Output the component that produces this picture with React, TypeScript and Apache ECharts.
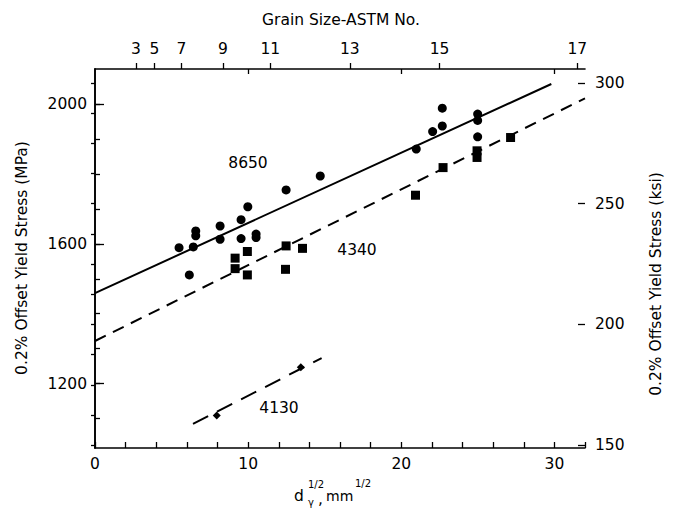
import React, { useEffect, useRef } from "react";
import * as echarts from "echarts";

// 8650 steel (circles)
const c8650X = [5.49, 6.42, 6.58, 6.58, 8.17, 8.17, 9.54, 9.54, 9.98, 10.52, 10.52, 6.16, 12.48, 14.71, 20.98, 22.05, 22.68, 22.68, 24.99, 24.99, 24.99];
const c8650Y = [1589, 1591, 1637, 1623, 1651, 1613, 1669, 1615, 1706, 1628, 1618, 1511, 1754, 1794, 1871, 1921, 1988, 1937, 1971, 1953, 1906];
// 4340 steel (squares)
const s4340X = [9.15, 9.95, 9.15, 9.95, 12.48, 13.55, 12.44, 20.93, 22.73, 24.95, 24.95, 27.14];
const s4340Y = [1559, 1578, 1529, 1511, 1594, 1587, 1527, 1739, 1818, 1866, 1847, 1904];
// 4130 steel (diamonds)
const d4130X = [7.95, 13.44];
const d4130Y = [1109, 1247];
// fitted lines
const fit8650X = [0, 29.8];
const fit8650Y = [1459, 2057];
const fit4340X = [0, 32];
const fit4340Y = [1322, 2016];
const fit4130X = [6.4, 14.8];
const fit4130Y = [1085, 1273];

// axes
const xMin = 0;
const xMax = 32;
const xLabels = [0, 10, 20, 30];
const xMinorTicks = [0, 2, 4, 6, 8, 10, 12, 14, 16, 18, 20, 22, 24, 26, 28, 30, 32];
const yMin = 1016;
const yMax = 2100;
const yLabels = [1200, 1600, 2000];
const yMinorTicks = [1100, 1200, 1300, 1400, 1500, 1600, 1700, 1800, 1900, 2000];
const ksiMin = 148.8;
const ksiMax = 305.8;
const ksiLabels = [150, 200, 250, 300];
const ksiMinorTicks = [150, 162.5, 175, 187.5, 200, 212.5, 225, 237.5, 250, 262.5, 275, 287.5, 300];
const astmNumbers = [3, 5, 7, 9, 11, 13, 15, 17];
const astmPositions = [2.68, 3.88, 5.65, 8.36, 11.45, 16.64, 22.5, 31.5];

const zip = (xs: number[], ys: number[]) => xs.map((x, i) => [x, ys[i]]);

const FONT = "DejaVu Sans";
const FS = 15.5;

export default function App() {
  const ref = useRef<HTMLDivElement>(null);
  useEffect(() => {
    if (!ref.current) return;
    const chart = echarts.init(ref.current, null, { renderer: "svg" });
    const lbl = { color: "#000", fontFamily: FONT, fontSize: FS, formatter: (v: number) => String(v) };
    const line = { show: true, lineStyle: { color: "#000", width: 1.6 } };
    const txt = (text: string, x: number, y: number, size = FS, extra: any = {}) => ({
      type: "text",
      x,
      y,
      ...extra,
      style: { text, fill: "#000", fontFamily: FONT, fontSize: size, align: extra.align || "center", verticalAlign: "middle" },
    });
    chart.setOption({
      animation: false,
      backgroundColor: "#fff",
      grid: { left: 95, right: 88, top: 69, bottom: 60 },
      xAxis: [
        {
          type: "value", position: "bottom", min: xMin, max: xMax,
          axisLine: line, splitLine: { show: false },
          axisTick: { show: true, inside: true, length: 6, customValues: xMinorTicks, lineStyle: { color: "#000", width: 1.3 } },
          axisLabel: { ...lbl, customValues: xLabels, margin: 8 },
        },
        {
          type: "value", position: "top", min: xMin, max: xMax,
          axisLine: line, splitLine: { show: false },
          axisTick: { show: true, inside: true, length: 5, customValues: [10, 20, 30], lineStyle: { color: "#000", width: 1.3 } },
          axisLabel: { show: false },
        },
        {
          type: "value", position: "top", min: xMin, max: xMax,
          axisLine: { show: false }, splitLine: { show: false },
          axisTick: { show: true, inside: false, length: 6, customValues: astmPositions, lineStyle: { color: "#000", width: 1.3 } },
          axisLabel: {
            ...lbl, customValues: astmPositions, margin: 12,
            formatter: (v: number) => {
              const i = astmPositions.findIndex((p) => Math.abs(p - v) < 1e-6);
              return i >= 0 ? String(astmNumbers[i]) : "";
            },
          },
        },
      ],
      yAxis: [
        {
          type: "value", position: "left", min: yMin, max: yMax,
          axisLine: line, splitLine: { show: false },
          axisTick: { show: true, inside: true, length: 5, customValues: yMinorTicks, lineStyle: { color: "#000", width: 1.3 } },
          axisLabel: { show: false },
        },
        {
          type: "value", position: "left", min: yMin, max: yMax,
          axisLine: { show: false }, splitLine: { show: false },
          axisTick: { show: true, inside: true, length: 9, customValues: yLabels, lineStyle: { color: "#000", width: 1.3 } },
          axisLabel: { ...lbl, customValues: yLabels, margin: 8 },
        },
        {
          type: "value", position: "right", min: ksiMin, max: ksiMax,
          axisLine: line, splitLine: { show: false },
          axisTick: { show: true, inside: true, length: 4, customValues: ksiMinorTicks, lineStyle: { color: "#000", width: 1.3 } },
          axisLabel: { show: false },
        },
        {
          type: "value", position: "right", min: ksiMin, max: ksiMax,
          axisLine: { show: false }, splitLine: { show: false },
          axisTick: { show: true, inside: true, length: 7, customValues: ksiLabels, lineStyle: { color: "#000", width: 1.3 } },
          axisLabel: { ...lbl, customValues: ksiLabels, margin: 10 },
        },
      ],
      series: [
        {
          type: "line", xAxisIndex: 0, yAxisIndex: 0, data: zip(fit8650X, fit8650Y), showSymbol: false, symbol: "none",
          lineStyle: { color: "#000", width: 2 },
        },
        {
          type: "line", xAxisIndex: 0, yAxisIndex: 0, data: zip(fit4340X, fit4340Y), showSymbol: false, symbol: "none",
          lineStyle: { color: "#000", width: 2, type: [12, 8] },
        },
        {
          type: "line", xAxisIndex: 0, yAxisIndex: 0, data: zip(fit4130X, fit4130Y), showSymbol: false, symbol: "none",
          lineStyle: { color: "#000", width: 2, type: [17, 10] },
        },
        {
          type: "scatter", xAxisIndex: 0, yAxisIndex: 0, data: zip(c8650X, c8650Y), symbol: "circle", symbolSize: 9,
          itemStyle: { color: "#000", opacity: 1 },
        },
        {
          type: "scatter", xAxisIndex: 0, yAxisIndex: 0, data: zip(s4340X, s4340Y), symbol: "rect", symbolSize: 9,
          itemStyle: { color: "#000", opacity: 1 },
        },
        {
          type: "scatter", xAxisIndex: 0, yAxisIndex: 0, data: zip(d4130X, d4130Y), symbol: "diamond", symbolSize: 8,
          itemStyle: { color: "#000", opacity: 1 },
        },
      ],
      graphic: [
        txt("Grain Size-ASTM No.", 341, 20),
        txt("0.2% Offset Yield Stress (MPa)", 22, 258, FS, { rotation: Math.PI / 2 }),
        txt("0.2% Offset Yield Stress (ksi)", 656, 284, FS, { rotation: Math.PI / 2 }),
        txt("8650", 248, 163),
        txt("4340", 357, 250),
        txt("4130", 279, 408),
        txt("d", 294, 496, FS, { align: "left" }),
        txt("1/2", 308, 484, 10, { align: "left" }),
        txt("γ", 308, 502, 10, { align: "left" }),
        txt(",", 318, 499, FS, { align: "left" }),
        txt("mm", 326, 496, 14, { align: "left" }),
        txt("1/2", 355, 483, 10, { align: "left" }),
      ],
    });
    return () => chart.dispose();
  }, []);
  return <div ref={ref} style={{ position: "fixed", left: 0, top: 0, width: 673, height: 508, background: "#fff" }} />;
}
